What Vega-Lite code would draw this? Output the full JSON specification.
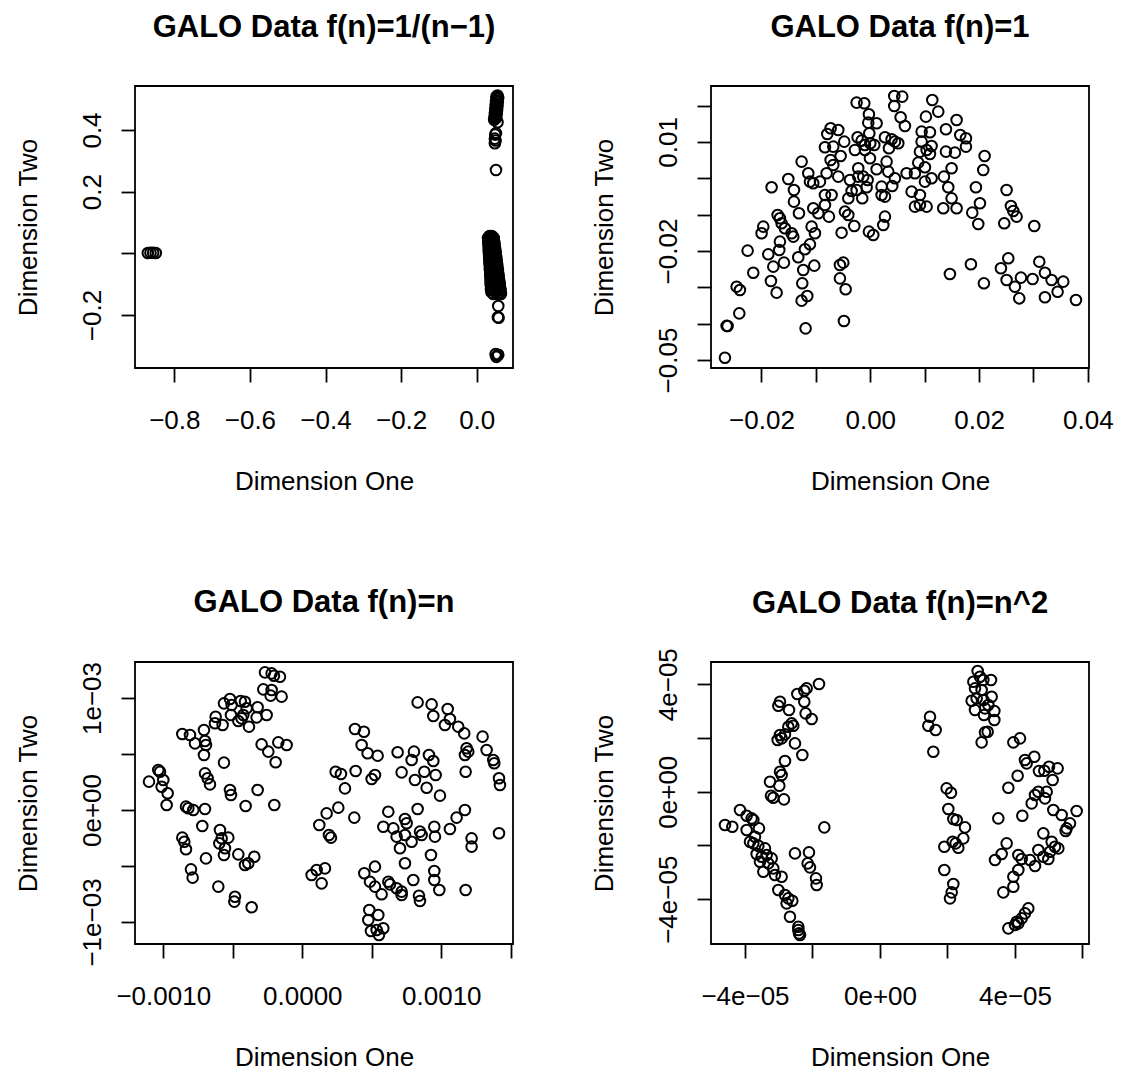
{
"$schema": "https://vega.github.io/schema/vega-lite/v6.json",
"autosize": {"type": "none"},
"padding": {"left": 135, "top": 86, "right": 991, "bottom": 988},
"background": "white",
"bounds": "flush",
"columns": 2,
"spacing": {"row": 294, "column": 198},
"config": {
  "view": {"stroke": "black", "strokeWidth": 1.8},
  "font": "Liberation Sans",
  "axis": {"grid": false, "domain": false, "ticks": true, "tickSize": 14, "tickWidth": 1.8, "tickColor": "black", "labelFont": "Liberation Sans", "labelFontSize": 26, "labelColor": "black", "labelOverlap": false, "labelFlush": false, "labelBound": false, "titleFont": "Liberation Sans", "titleFontSize": 26, "titleFontWeight": "normal", "titleColor": "black"},
  "axisX": {"labelPadding": 25, "labelBaseline": "top", "labelAngle": 0, "titleY": 121, "titleBaseline": "alphabetic"},
  "axisY": {"labelPadding": 21, "labelAngle": 270, "labelAlign": "center", "labelBaseline": "alphabetic", "titleX": -99, "titleY": 141, "titleAngle": 270, "titleAlign": "center", "titleBaseline": "alphabetic"},
  "title": {"font": "Liberation Sans", "fontSize": 31, "fontWeight": "bold", "color": "black", "anchor": "middle", "frame": "group", "offset": 42, "baseline": "alphabetic"}
},
"datasets": {
"p1": [
{"x":-0.870,"y":0.001},{"x":-0.863,"y":0.002},{"x":-0.856,"y":0.002},{"x":-0.849,"y":0.001},
{"x":0.055,"y":0.512},{"x":0.052,"y":0.508},{"x":0.057,"y":0.505},{"x":0.054,"y":0.500},{"x":0.051,"y":0.495},{"x":0.056,"y":0.492},{"x":0.053,"y":0.487},{"x":0.050,"y":0.482},{"x":0.055,"y":0.478},{"x":0.052,"y":0.474},{"x":0.049,"y":0.469},{"x":0.054,"y":0.465},{"x":0.051,"y":0.460},{"x":0.048,"y":0.456},{"x":0.053,"y":0.452},{"x":0.050,"y":0.447},{"x":0.047,"y":0.443},{"x":0.052,"y":0.440},{"x":0.049,"y":0.436},{"x":0.046,"y":0.433},{"x":0.055,"y":0.425},{"x":0.051,"y":0.390},{"x":0.049,"y":0.385},{"x":0.048,"y":0.372},{"x":0.050,"y":0.366},{"x":0.048,"y":0.357},{"x":0.051,"y":0.270},
{"x":0.034,"y":0.056},{"x":0.040,"y":0.056},
{"x":0.030,"y":0.050},{"x":0.037,"y":0.050},{"x":0.045,"y":0.050},
{"x":0.031,"y":0.043},{"x":0.038,"y":0.043},{"x":0.045,"y":0.043},
{"x":0.031,"y":0.037},{"x":0.039,"y":0.037},{"x":0.046,"y":0.037},
{"x":0.031,"y":0.030},{"x":0.039,"y":0.030},{"x":0.047,"y":0.030},
{"x":0.032,"y":0.024},{"x":0.040,"y":0.024},{"x":0.047,"y":0.024},
{"x":0.032,"y":0.017},{"x":0.040,"y":0.017},{"x":0.048,"y":0.017},
{"x":0.032,"y":0.011},{"x":0.041,"y":0.011},{"x":0.049,"y":0.011},
{"x":0.032,"y":0.004},{"x":0.041,"y":0.004},{"x":0.050,"y":0.004},
{"x":0.033,"y":-0.002},{"x":0.042,"y":-0.002},{"x":0.050,"y":-0.002},
{"x":0.033,"y":-0.009},{"x":0.042,"y":-0.009},{"x":0.051,"y":-0.009},
{"x":0.033,"y":-0.015},{"x":0.043,"y":-0.015},{"x":0.052,"y":-0.015},
{"x":0.034,"y":-0.022},{"x":0.043,"y":-0.022},{"x":0.052,"y":-0.022},
{"x":0.034,"y":-0.028},{"x":0.044,"y":-0.028},{"x":0.053,"y":-0.028},
{"x":0.034,"y":-0.035},{"x":0.044,"y":-0.035},{"x":0.054,"y":-0.035},
{"x":0.035,"y":-0.041},{"x":0.045,"y":-0.041},{"x":0.054,"y":-0.041},
{"x":0.035,"y":-0.048},{"x":0.045,"y":-0.048},{"x":0.055,"y":-0.048},
{"x":0.035,"y":-0.054},{"x":0.046,"y":-0.054},{"x":0.056,"y":-0.054},
{"x":0.036,"y":-0.061},{"x":0.046,"y":-0.061},{"x":0.056,"y":-0.061},
{"x":0.036,"y":-0.067},{"x":0.047,"y":-0.067},{"x":0.057,"y":-0.067},
{"x":0.036,"y":-0.074},{"x":0.047,"y":-0.074},{"x":0.058,"y":-0.074},
{"x":0.037,"y":-0.080},{"x":0.048,"y":-0.080},{"x":0.058,"y":-0.080},
{"x":0.037,"y":-0.087},{"x":0.048,"y":-0.087},{"x":0.059,"y":-0.087},
{"x":0.037,"y":-0.093},{"x":0.049,"y":-0.093},{"x":0.060,"y":-0.093},
{"x":0.037,"y":-0.100},{"x":0.049,"y":-0.100},{"x":0.061,"y":-0.100},
{"x":0.038,"y":-0.106},{"x":0.050,"y":-0.106},{"x":0.061,"y":-0.106},
{"x":0.038,"y":-0.113},{"x":0.050,"y":-0.113},{"x":0.062,"y":-0.113},
{"x":0.038,"y":-0.119},{"x":0.051,"y":-0.119},{"x":0.063,"y":-0.119},
{"x":0.039,"y":-0.126},{"x":0.051,"y":-0.126},{"x":0.063,"y":-0.126},
{"x":0.044,"y":-0.132},{"x":0.055,"y":-0.132},{"x":0.064,"y":-0.132},
{"x":0.057,"y":-0.171},{"x":0.056,"y":-0.207},{"x":0.058,"y":-0.209},
{"x":0.050,"y":-0.327},{"x":0.054,"y":-0.332},{"x":0.057,"y":-0.329},{"x":0.052,"y":-0.336}
],
"p2": [
{"x":-0.00251,"y":0.02083},{"x":-0.00110,"y":0.02064},{"x":0.00441,"y":0.02266},{"x":0.00588,"y":0.02248},{"x":0.00441,"y":0.01991},{"x":0.01140,"y":0.02156},{"x":0.01250,"y":0.01835},{"x":-0.00025,"y":0.01762},{"x":-0.00037,"y":0.01532},{"x":0.00116,"y":0.01514},{"x":0.00558,"y":0.01679},{"x":0.00637,"y":0.01440},{"x":0.01023,"y":0.01697},{"x":-0.00729,"y":0.01376},{"x":-0.00588,"y":0.01330},{"x":-0.00790,"y":0.01220},{"x":-0.00478,"y":0.01009},{"x":-0.00833,"y":0.00853},{"x":-0.00680,"y":0.00872},{"x":-0.00545,"y":0.00615},{"x":-0.00729,"y":0.00505},{"x":-0.00680,"y":0.00367},{"x":-0.00233,"y":0.01129},{"x":-0.00159,"y":0.01037},{"x":-0.00018,"y":0.01239},{"x":0,"y":0.00963},{"x":0.00074,"y":0.00918},{"x":-0.00098,"y":0.00918},{"x":-0.00282,"y":0.00780},{"x":-0.00098,"y":0.00780},{"x":0.00270,"y":0.01129},{"x":0.00392,"y":0.01073},{"x":0.00453,"y":0.01009},{"x":0.00343,"y":0.00826},{"x":0.00515,"y":0.00963},{"x":0.00944,"y":0.01285},{"x":0.01097,"y":0.01266},{"x":0.00944,"y":0.01009},{"x":0.01127,"y":0.00890},{"x":0.00913,"y":0.00734},{"x":0.01097,"y":0.00670},{"x":0.01036,"y":0.00780},{"x":0.01391,"y":0.01349},{"x":0.01587,"y":0.01606},{"x":0.01654,"y":0.01193},{"x":0.01759,"y":0.01101},{"x":0.01759,"y":0.00872},{"x":0.01391,"y":0.00734},{"x":0.01556,"y":0.00706},{"x":0.02102,"y":0.00615},{"x":0.02077,"y":0.00229},{"x":-0.01262,"y":0.00459},{"x":-0.01140,"y":0.00138},{"x":-0.01507,"y":-0.00018},{"x":-0.01403,"y":-0.00321},{"x":-0.01403,"y":-0.00642},{"x":-0.01814,"y":-0.00248},{"x":-0.01109,"y":-0.00092},{"x":-0.01048,"y":-0.00138},{"x":-0.00925,"y":-0.00092},{"x":-0.00833,"y":-0.00459},{"x":-0.00711,"y":-0.00459},{"x":-0.00833,"y":-0.00734},{"x":-0.00588,"y":0.00046},{"x":-0.00803,"y":0.00138},{"x":-0.01048,"y":-0.00826},{"x":-0.00956,"y":-0.00963},{"x":-0.01311,"y":-0.00963},{"x":-0.00760,"y":-0.01055},{"x":-0.00374,"y":-0.00046},{"x":-0.00343,"y":-0.00349},{"x":-0.00404,"y":-0.00551},{"x":-0.00251,"y":-0.00321},{"x":-0.00221,"y":0.00275},{"x":-0.00221,"y":0.00046},{"x":-0.00129,"y":0.00046},{"x":-0.00049,"y":-0.00046},{"x":-0.00067,"y":-0.00248},{"x":-0.00147,"y":-0.00551},{"x":-0.00006,"y":0.00551},{"x":0.00116,"y":0.00248},{"x":0.00208,"y":-0.00229},{"x":0.00270,"y":-0.00505},{"x":0.00208,"y":-0.00459},{"x":0.00270,"y":-0.01055},{"x":0.00239,"y":-0.01285},{"x":0.00300,"y":0.00459},{"x":0.00331,"y":0.00184},{"x":0.00453,"y":0},{"x":0.00404,"y":-0.00211},{"x":0.00668,"y":0.00138},{"x":0.00821,"y":0.00138},{"x":0.00760,"y":-0.00367},{"x":0.00913,"y":-0.00459},{"x":0.00821,"y":-0.00780},{"x":0.00913,"y":-0.00734},{"x":0.01036,"y":-0.00780},{"x":0.00882,"y":0.00431},{"x":0.01005,"y":0.00303},{"x":0.01005,"y":-0.00092},{"x":0.01127,"y":0},{"x":0.01354,"y":0.00046},{"x":0.01434,"y":-0.00248},{"x":0.01495,"y":-0.00551},{"x":0.01495,"y":0.00275},{"x":0.01342,"y":-0.00826},{"x":0.01587,"y":-0.00826},{"x":0.01942,"y":-0.00248},{"x":0.02016,"y":-0.00688},{"x":0.01875,"y":-0.00945},{"x":0.01985,"y":-0.01257},{"x":0.02506,"y":-0.00321},{"x":0.02586,"y":-0.00762},{"x":0.02629,"y":-0.00899},{"x":0.02690,"y":-0.01055},{"x":0.02463,"y":-0.01239},{"x":0.03015,"y":-0.01312},{"x":-0.01703,"y":-0.01009},{"x":-0.01661,"y":-0.01101},{"x":-0.01630,"y":-0.01239},{"x":-0.01569,"y":-0.01376},{"x":-0.01446,"y":-0.01514},{"x":-0.01415,"y":-0.01606},{"x":-0.01967,"y":-0.01330},{"x":-0.01998,"y":-0.01514},{"x":-0.01078,"y":-0.01330},{"x":-0.01017,"y":-0.01514},{"x":-0.00527,"y":-0.01496},{"x":-0.00466,"y":-0.00918},{"x":-0.00404,"y":-0.01009},{"x":-0.00294,"y":-0.01312},{"x":-0.00025,"y":-0.01468},{"x":0.00055,"y":-0.01560},{"x":-0.02255,"y":-0.01991},{"x":-0.01875,"y":-0.02092},{"x":-0.01673,"y":-0.01973},{"x":-0.01661,"y":-0.01743},{"x":-0.01783,"y":-0.02431},{"x":-0.01587,"y":-0.02321},{"x":-0.01324,"y":-0.02174},{"x":-0.01232,"y":-0.02523},{"x":-0.01029,"y":-0.02404},{"x":-0.01109,"y":-0.01817},{"x":-0.01201,"y":-0.01954},{"x":-0.02151,"y":-0.02597},{"x":-0.01826,"y":-0.02826},{"x":-0.01722,"y":-0.03147},{"x":-0.01250,"y":-0.02890},{"x":-0.01262,"y":-0.03367},{"x":-0.01158,"y":-0.03239},{"x":-0.00558,"y":-0.02386},{"x":-0.00496,"y":-0.02321},{"x":-0.00558,"y":-0.02753},{"x":-0.00453,"y":-0.03055},{"x":-0.02457,"y":-0.02982},{"x":-0.02396,"y":-0.03074},{"x":-0.02408,"y":-0.03716},{"x":-0.02623,"y":-0.04065},{"x":-0.02641,"y":-0.04060},{"x":-0.02672,"y":-0.04936},{"x":-0.01189,"y":-0.04129},{"x":-0.00484,"y":-0.03927},{"x":0.01464,"y":-0.02633},{"x":0.01850,"y":-0.02367},{"x":0.02089,"y":-0.02890},{"x":0.02402,"y":-0.02477},{"x":0.02537,"y":-0.02202},{"x":0.02506,"y":-0.02798},{"x":0.02659,"y":-0.02982},{"x":0.02739,"y":-0.03303},{"x":0.02770,"y":-0.02734},{"x":0.02984,"y":-0.02771},{"x":0.03107,"y":-0.02294},{"x":0.03211,"y":-0.02597},{"x":0.03333,"y":-0.02798},{"x":0.03211,"y":-0.03275},{"x":0.03444,"y":-0.03120},{"x":0.03548,"y":-0.02844},{"x":0.03781,"y":-0.03349}
],
"p3": [
{"x":-0.0002686,"y":0.001229},{"x":-0.0002206,"y":0.001220},{"x":-0.0002038,"y":0.001199},{"x":-0.0001607,"y":0.001190},{"x":-0.0002806,"y":0.001077},{"x":-0.0002206,"y":0.001071},{"x":-0.0002278,"y":0.001021},{"x":-0.0001487,"y":0.001012},{"x":-0.0002566,"y":0.000848},{"x":-0.0003213,"y":0.000917},{"x":-0.0003285,"y":0.000827},{"x":-0.0005635,"y":0.000952},{"x":-0.0005204,"y":0.000991},{"x":-0.0005084,"y":0.000937},{"x":-0.0004436,"y":0.000973},{"x":-0.0004125,"y":0.000967},{"x":-0.0004005,"y":0.000908},{"x":-0.0005132,"y":0.000848},{"x":-0.0004604,"y":0.000795},{"x":-0.0004364,"y":0.000818},{"x":-0.0003837,"y":0.000744},{"x":-0.0004244,"y":0.000848},{"x":-0.0006235,"y":0.000833},{"x":-0.0006283,"y":0.000774},{"x":-0.0005731,"y":0.000759},{"x":-0.0008633,"y":0.000679},{"x":-0.0008081,"y":0.000670},{"x":-0.0007722,"y":0.000595},{"x":-0.0007074,"y":0.000714},{"x":-0.0007002,"y":0.000616},{"x":-0.0006930,"y":0.000580},{"x":-0.0007074,"y":0.000491},{"x":-0.0002926,"y":0.000586},{"x":-0.0002446,"y":0.000521},{"x":-0.0001727,"y":0.000604},{"x":-0.0001127,"y":0.000580},{"x":-0.0001918,"y":0.000426},{"x":-0.0005635,"y":0.000423},{"x":-0.0007002,"y":0.000327},{"x":-0.0006810,"y":0.000283},{"x":-0.0006642,"y":0.000229},{"x":-0.0010360,"y":0.000357},{"x":-0.0010240,"y":0.000342},{"x":-0.0010000,"y":0.000268},{"x":-0.0011030,"y":0.000253},{"x":-0.0010120,"y":0.000208},{"x":-0.0009688,"y":0.000149},{"x":-0.0009760,"y":0.000045},{"x":-0.0005204,"y":0.000179},{"x":-0.0005132,"y":0.000134},{"x":-0.0003213,"y":0.000179},{"x":-0.0004077,"y":0.000036},{"x":-0.0002014,"y":0.000045},{"x":-0.0008369,"y":0.000030},{"x":-0.0008201,"y":0.000015},{"x":-0.0007841,"y":0},{"x":-0.0007002,"y":0.000009},{"x":-0.0007194,"y":-0.000143},{"x":-0.0008633,"y":-0.000247},{"x":-0.0008489,"y":-0.000283},{"x":-0.0008369,"y":-0.000351},{"x":-0.0005923,"y":-0.000179},{"x":-0.0005971,"y":-0.000298},{"x":-0.0005803,"y":-0.000253},{"x":-0.0005324,"y":-0.000247},{"x":-0.0005563,"y":-0.000342},{"x":-0.0005635,"y":-0.000402},{"x":-0.0006930,"y":-0.000432},{"x":-0.0004604,"y":-0.000396},{"x":-0.0004125,"y":-0.000491},{"x":-0.0003453,"y":-0.000417},{"x":-0.0003885,"y":-0.000476},{"x":-0.0008009,"y":-0.000530},{"x":-0.0007889,"y":-0.000604},{"x":-0.0006043,"y":-0.000684},{"x":-0.0004844,"y":-0.000774},{"x":-0.0004892,"y":-0.000818},{"x":-0.0003645,"y":-0.000869},{"x":0.0003789,"y":0.000723},{"x":0.0004436,"y":0.000699},{"x":0.0004268,"y":0.000580},{"x":0.0004700,"y":0.000506},{"x":0.0005419,"y":0.000485},{"x":0.0002398,"y":0.000342},{"x":0.0002782,"y":0.000321},{"x":0.0003837,"y":0.000348},{"x":0.0003069,"y":0.000193},{"x":0.0004988,"y":0.000277},{"x":0.0005228,"y":0.000312},{"x":0.0006858,"y":0.000515},{"x":0.0008033,"y":0.000521},{"x":0.0007865,"y":0.000446},{"x":0.0009112,"y":0.000491},{"x":0.0009424,"y":0.000437},{"x":0.0007146,"y":0.000336},{"x":0.0008105,"y":0.000268},{"x":0.0008777,"y":0.000342},{"x":0.0009592,"y":0.000312},{"x":0.0008945,"y":0.000199},{"x":0.0009904,"y":0.000128},{"x":0.0008297,"y":0.000961},{"x":0.0009304,"y":0.000943},{"x":0.0009424,"y":0.000839},{"x":0.0010460,"y":0.000902},{"x":0.0010260,"y":0.000759},{"x":0.0010620,"y":0.000812},{"x":0.0011220,"y":0.000744},{"x":0.0011650,"y":0.000684},{"x":0.0011820,"y":0.000551},{"x":0.0011940,"y":0.000521},{"x":0.0011700,"y":0.000491},{"x":0.0012970,"y":0.000655},{"x":0.0013260,"y":0.000536},{"x":0.0013740,"y":0.000446},{"x":0.0013810,"y":0.000417},{"x":0.0011750,"y":0.000342},{"x":0.0014150,"y":0.000283},{"x":0.0014220,"y":0.000223},{"x":0.0002590,"y":0.000021},{"x":0.0001751,"y":-0.000030},{"x":0.0001223,"y":-0.000134},{"x":0.0001918,"y":-0.000223},{"x":0.0002062,"y":-0.000247},{"x":0.0003741,"y":-0.000068},{"x":0.0006187,"y":-0.000015},{"x":0.0005827,"y":-0.000149},{"x":0.0006547,"y":-0.000164},{"x":0.0007386,"y":-0.000080},{"x":0.0007506,"y":-0.000119},{"x":0.0006786,"y":-0.000238},{"x":0.0007386,"y":-0.000223},{"x":0.0007865,"y":-0.000283},{"x":0.0007026,"y":-0.000342},{"x":0.0008297,"y":0.000009},{"x":0.0008465,"y":-0.000193},{"x":0.0008585,"y":-0.000223},{"x":0.0009496,"y":-0.000149},{"x":0.0009544,"y":-0.000238},{"x":0.0009256,"y":-0.000402},{"x":0.0010620,"y":-0.000170},{"x":0.0011100,"y":-0.000068},{"x":0.0011700,"y":0},{"x":0.0012180,"y":-0.000253},{"x":0.0012180,"y":-0.000327},{"x":0.0014150,"y":-0.000208},{"x":0.0007386,"y":-0.000476},{"x":0.0000671,"y":-0.000580},{"x":0.0001031,"y":-0.000536},{"x":0.0001631,"y":-0.000521},{"x":0.0001391,"y":-0.000655},{"x":0.0004460,"y":-0.000565},{"x":0.0005228,"y":-0.000506},{"x":0.0004868,"y":-0.000640},{"x":0.0005228,"y":-0.000684},{"x":0.0005707,"y":-0.000753},{"x":0.0006187,"y":-0.000640},{"x":0.0006307,"y":-0.000664},{"x":0.0006786,"y":-0.000699},{"x":0.0007146,"y":-0.000729},{"x":0.0007146,"y":-0.000759},{"x":0.0007985,"y":-0.000625},{"x":0.0008393,"y":-0.000765},{"x":0.0008465,"y":-0.000812},{"x":0.0009496,"y":-0.000545},{"x":0.0009496,"y":-0.000625},{"x":0.0009856,"y":-0.000714},{"x":0.0011750,"y":-0.000714},{"x":0.0004820,"y":-0.000893},{"x":0.0005467,"y":-0.000937},{"x":0.0004748,"y":-0.000982},{"x":0.0005827,"y":-0.001056},{"x":0.0004940,"y":-0.001080},{"x":0.0005515,"y":-0.001116},{"x":0.0005348,"y":-0.001071}
],
"p4": [
{"x":-1.807e-5,"y":4.006e-5},{"x":-2.173e-5,"y":3.845e-5},{"x":-2.242e-5,"y":3.758e-5},{"x":-2.449e-5,"y":3.634e-5},{"x":-2.242e-5,"y":3.349e-5},{"x":-2.203e-5,"y":2.915e-5},{"x":-2.025e-5,"y":2.704e-5},{"x":-2.963e-5,"y":3.349e-5},{"x":-3.012e-5,"y":3.200e-5},{"x":-2.696e-5,"y":3.039e-5},{"x":-2.617e-5,"y":2.543e-5},{"x":-2.568e-5,"y":2.456e-5},{"x":-2.716e-5,"y":2.419e-5},{"x":-2.815e-5,"y":2.133e-5},{"x":-2.963e-5,"y":2.109e-5},{"x":-3.032e-5,"y":1.922e-5},{"x":-2.914e-5,"y":1.984e-5},{"x":-2.519e-5,"y":1.798e-5},{"x":-2.301e-5,"y":1.364e-5},{"x":-2.815e-5,"y":1.141e-5},{"x":-2.963e-5,"y":0.744e-5},{"x":-2.914e-5,"y":0.620e-5},{"x":-3.259e-5,"y":0.372e-5},{"x":-2.983e-5,"y":0.223e-5},{"x":-3.230e-5,"y":-0.149e-5},{"x":-3.161e-5,"y":-0.223e-5},{"x":-2.845e-5,"y":-0.285e-5},{"x":-4.593e-5,"y":-1.240e-5},{"x":-4.375e-5,"y":-1.302e-5},{"x":-4.148e-5,"y":-0.682e-5},{"x":-3.951e-5,"y":-0.893e-5},{"x":-3.803e-5,"y":-0.992e-5},{"x":-3.753e-5,"y":-1.054e-5},{"x":-3.951e-5,"y":-1.426e-5},{"x":-3.585e-5,"y":-1.364e-5},{"x":-3.852e-5,"y":-1.860e-5},{"x":-3.704e-5,"y":-1.674e-5},{"x":-3.753e-5,"y":-1.922e-5},{"x":-3.605e-5,"y":-2.009e-5},{"x":-3.408e-5,"y":-2.109e-5},{"x":-3.654e-5,"y":-2.319e-5},{"x":-3.506e-5,"y":-2.419e-5},{"x":-3.556e-5,"y":-2.605e-5},{"x":-3.358e-5,"y":-2.357e-5},{"x":-3.210e-5,"y":-2.481e-5},{"x":-3.309e-5,"y":-2.667e-5},{"x":-3.457e-5,"y":-2.977e-5},{"x":-3.161e-5,"y":-2.853e-5},{"x":-3.111e-5,"y":-3.101e-5},{"x":-2.914e-5,"y":-3.163e-5},{"x":-3.012e-5,"y":-3.659e-5},{"x":-2.815e-5,"y":-3.845e-5},{"x":-2.716e-5,"y":-3.969e-5},{"x":-2.598e-5,"y":-4.056e-5},{"x":-2.766e-5,"y":-4.155e-5},{"x":-2.667e-5,"y":-4.651e-5},{"x":-2.420e-5,"y":-5.023e-5},{"x":-2.420e-5,"y":-5.147e-5},{"x":-2.400e-5,"y":-5.271e-5},{"x":-2.370e-5,"y":-5.333e-5},{"x":-2.519e-5,"y":-2.295e-5},{"x":-2.104e-5,"y":-2.257e-5},{"x":-2.143e-5,"y":-2.667e-5},{"x":-2.074e-5,"y":-2.815e-5},{"x":-1.896e-5,"y":-3.225e-5},{"x":-1.877e-5,"y":-3.473e-5},{"x":-1.649e-5,"y":-1.327e-5},
{"x":2.894e-5,"y":4.490e-5},{"x":2.766e-5,"y":4.093e-5},{"x":2.963e-5,"y":4.279e-5},{"x":3.062e-5,"y":4.155e-5},{"x":3.289e-5,"y":4.155e-5},{"x":2.815e-5,"y":3.845e-5},{"x":3.012e-5,"y":3.783e-5},{"x":2.716e-5,"y":3.386e-5},{"x":2.864e-5,"y":3.473e-5},{"x":3.062e-5,"y":3.411e-5},{"x":3.309e-5,"y":3.535e-5},{"x":3.388e-5,"y":3.002e-5},{"x":3.111e-5,"y":3.101e-5},{"x":3.210e-5,"y":3.225e-5},{"x":2.815e-5,"y":3.039e-5},{"x":3.082e-5,"y":2.853e-5},{"x":3.388e-5,"y":2.667e-5},{"x":3.190e-5,"y":2.233e-5},{"x":3.111e-5,"y":2.208e-5},{"x":3.012e-5,"y":1.836e-5},{"x":1.482e-5,"y":2.791e-5},{"x":1.432e-5,"y":2.456e-5},{"x":1.649e-5,"y":2.295e-5},{"x":1.580e-5,"y":1.488e-5},{"x":1.975e-5,"y":0.124e-5},{"x":2.104e-5,"y":-0.037e-5},{"x":2.025e-5,"y":-0.645e-5},{"x":2.173e-5,"y":-1.017e-5},{"x":2.272e-5,"y":-1.054e-5},{"x":2.519e-5,"y":-1.327e-5},{"x":2.469e-5,"y":-1.736e-5},{"x":2.242e-5,"y":-1.922e-5},{"x":2.321e-5,"y":-2.084e-5},{"x":2.153e-5,"y":-1.860e-5},{"x":1.906e-5,"y":-2.046e-5},{"x":1.906e-5,"y":-2.915e-5},{"x":2.173e-5,"y":-3.436e-5},{"x":2.124e-5,"y":-3.746e-5},{"x":2.074e-5,"y":-3.969e-5},{"x":3.951e-5,"y":1.836e-5},{"x":4.148e-5,"y":1.984e-5},{"x":4.296e-5,"y":1.178e-5},{"x":4.346e-5,"y":1.054e-5},{"x":4.573e-5,"y":1.302e-5},{"x":4.711e-5,"y":0.769e-5},{"x":4.869e-5,"y":0.781e-5},{"x":5.008e-5,"y":0.930e-5},{"x":5.264e-5,"y":0.868e-5},{"x":5.116e-5,"y":0.434e-5},{"x":4.079e-5,"y":0.595e-5},{"x":3.803e-5,"y":0.149e-5},{"x":3.506e-5,"y":-0.992e-5},{"x":4.217e-5,"y":-0.893e-5},{"x":4.593e-5,"y":-0.124e-5},{"x":4.692e-5,"y":0},{"x":4.889e-5,"y":-0.248e-5},{"x":4.494e-5,"y":-0.434e-5},{"x":4.939e-5,"y":0},{"x":5.136e-5,"y":-0.682e-5},{"x":5.383e-5,"y":-0.868e-5},{"x":5.827e-5,"y":-0.719e-5},{"x":5.630e-5,"y":-1.178e-5},{"x":5.531e-5,"y":-1.364e-5},{"x":5.501e-5,"y":-1.464e-5},{"x":4.840e-5,"y":-1.550e-5},{"x":5.087e-5,"y":-1.860e-5},{"x":5.185e-5,"y":-2.046e-5},{"x":5.284e-5,"y":-2.109e-5},{"x":5.037e-5,"y":-2.233e-5},{"x":4.692e-5,"y":-2.171e-5},{"x":4.840e-5,"y":-2.419e-5},{"x":4.988e-5,"y":-2.505e-5},{"x":4.593e-5,"y":-2.766e-5},{"x":3.753e-5,"y":-1.922e-5},{"x":3.605e-5,"y":-2.319e-5},{"x":3.408e-5,"y":-2.543e-5},{"x":4.099e-5,"y":-2.357e-5},{"x":4.198e-5,"y":-2.505e-5},{"x":4.445e-5,"y":-2.543e-5},{"x":4.099e-5,"y":-2.915e-5},{"x":3.951e-5,"y":-3.163e-5},{"x":3.951e-5,"y":-3.535e-5},{"x":3.654e-5,"y":-3.746e-5},{"x":4.395e-5,"y":-4.341e-5},{"x":4.296e-5,"y":-4.527e-5},{"x":4.198e-5,"y":-4.713e-5},{"x":4.050e-5,"y":-4.837e-5},{"x":4.000e-5,"y":-4.961e-5},{"x":3.803e-5,"y":-5.085e-5},{"x":4.099e-5,"y":-4.899e-5}
]
},
"concat": [
{"width": 378, "height": 282, "title": "GALO Data f(n)=1/(n\u22121)", "data": {"name": "p1"},
 "mark": {"type": "point", "shape": "circle", "filled": false, "stroke": "black", "strokeWidth": 2, "size": 112, "opacity": 1},
 "encoding": {
  "x": {"field": "x", "type": "quantitative", "scale": {"domain": [-0.904, 0.096], "nice": false, "zero": false}, "axis": {"title": "Dimension One", "values": [-0.8, -0.6, -0.4, -0.2, 0], "format": ".1f"}},
  "y": {"field": "y", "type": "quantitative", "scale": {"domain": [-0.372, 0.5427], "nice": false, "zero": false}, "axis": {"title": "Dimension Two", "values": [-0.2, 0, 0.2, 0.4], "labelExpr": "abs(datum.value) < 1e-9 ? '' : format(datum.value, '.1f')"}}
 }},
{"width": 378, "height": 282, "title": "GALO Data f(n)=1", "data": {"name": "p2"},
 "mark": {"type": "point", "shape": "circle", "filled": false, "stroke": "black", "strokeWidth": 2, "size": 112, "opacity": 1},
 "encoding": {
  "x": {"field": "x", "type": "quantitative", "scale": {"domain": [-0.02928, 0.04021], "nice": false, "zero": false}, "axis": {"title": "Dimension One", "values": [-0.02, -0.01, 0, 0.01, 0.02, 0.03, 0.04], "labelExpr": "indexof([-2, 0, 2, 4], round(datum.value * 100)) >= 0 ? format(datum.value, '.2f') : ''"}},
  "y": {"field": "y", "type": "quantitative", "scale": {"domain": [-0.0522, 0.0254], "nice": false, "zero": false}, "axis": {"title": "Dimension Two", "values": [-0.05, -0.04, -0.03, -0.02, -0.01, 0, 0.01, 0.02], "labelExpr": "indexof([1, -2, -5], round(datum.value * 100)) >= 0 ? format(datum.value, '.2f') : ''"}}
 }},
{"width": 378, "height": 282, "title": "GALO Data f(n)=n", "data": {"name": "p3"},
 "mark": {"type": "point", "shape": "circle", "filled": false, "stroke": "black", "strokeWidth": 2, "size": 112, "opacity": 1},
 "encoding": {
  "x": {"field": "x", "type": "quantitative", "scale": {"domain": [-0.0012036, 0.0015158], "nice": false, "zero": false}, "axis": {"title": "Dimension One", "values": [-0.001, -0.0005, 0, 0.0005, 0.001, 0.0015], "labelExpr": "indexof([-10, 0, 10], round(datum.value * 10000)) >= 0 ? format(datum.value, '.4f') : ''"}},
  "y": {"field": "y", "type": "quantitative", "scale": {"domain": [-0.0011965, 0.0013214], "nice": false, "zero": false}, "axis": {"title": "Dimension Two", "values": [-0.001, -0.0005, 0, 0.0005, 0.001], "labelExpr": "round(datum.value * 10000) == 10 ? '1e\u221203' : round(datum.value * 10000) == 0 ? '0e+00' : round(datum.value * 10000) == -10 ? '\u22121e\u221203' : ''"}}
 }},
{"width": 378, "height": 282, "title": {"text": "GALO Data f(n)=n^2", "offset": 28}, "data": {"name": "p4"},
 "mark": {"type": "point", "shape": "circle", "filled": false, "stroke": "black", "strokeWidth": 2, "size": 112, "opacity": 1},
 "encoding": {
  "x": {"field": "x", "type": "quantitative", "scale": {"domain": [-5.007e-5, 6.193e-5], "nice": false, "zero": false}, "axis": {"title": "Dimension One", "values": [-4e-5, -2e-5, 0, 2e-5, 4e-5, 6e-5], "labelExpr": "round(datum.value * 100000) == 4 ? '4e\u221205' : round(datum.value * 100000) == 0 ? '0e+00' : round(datum.value * 100000) == -4 ? '\u22124e\u221205' : ''"}},
  "y": {"field": "y", "type": "quantitative", "scale": {"domain": [-5.667e-5, 4.826e-5], "nice": false, "zero": false}, "axis": {"title": "Dimension Two", "values": [-4e-5, -2e-5, 0, 2e-5, 4e-5], "labelExpr": "round(datum.value * 100000) == 4 ? '4e\u221205' : round(datum.value * 100000) == 0 ? '0e+00' : round(datum.value * 100000) == -4 ? '\u22124e\u221205' : ''"}}
 }}
]
}
